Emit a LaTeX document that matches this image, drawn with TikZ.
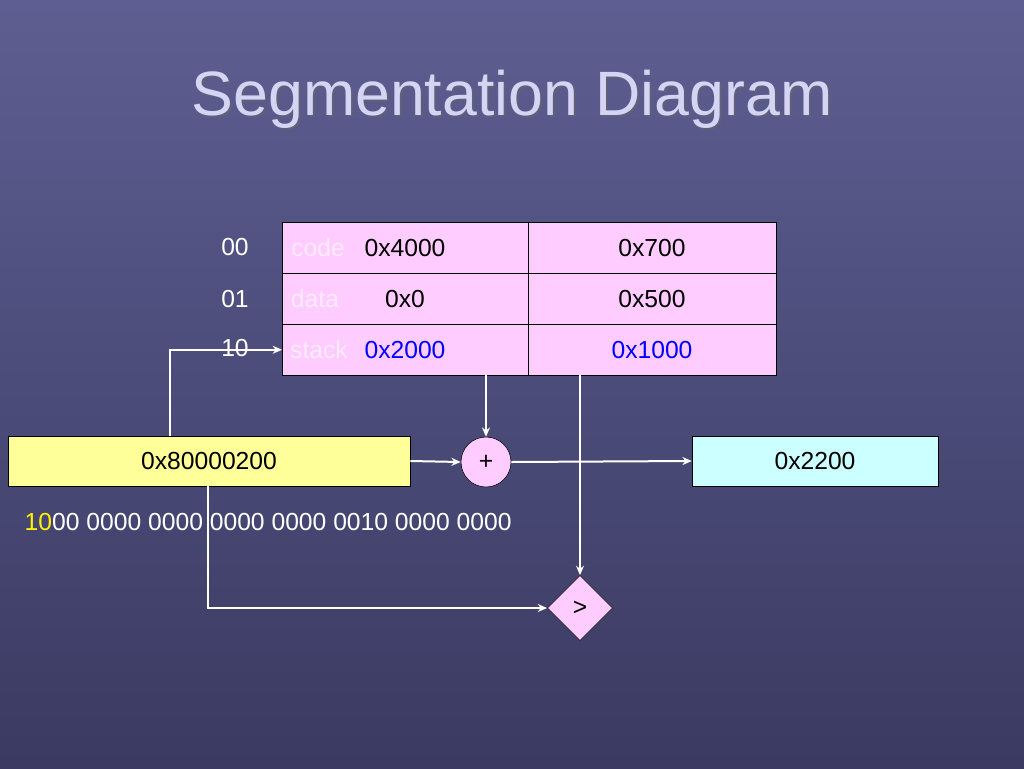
\documentclass[tikz,border=0pt]{standalone}
\usepackage{fontspec}
\setmainfont{Liberation Sans}
\usetikzlibrary{shapes.geometric,arrows.meta}
\definecolor{bgtop}{HTML}{5E5E92}
\definecolor{bgbot}{HTML}{3A3A62}
\definecolor{pinkf}{HTML}{FFCCFF}
\definecolor{yelf}{HTML}{FFFF99}
\definecolor{cyanf}{HTML}{CCFFFF}
\definecolor{titlec}{HTML}{D4D4F4}
\definecolor{faint}{HTML}{FFEAFF}
\begin{document}
\begin{tikzpicture}[x=0.75pt,y=-0.75pt,
  txt/.style={font=\fontsize{18.5}{22}\selectfont},
  wl/.style={white,line width=1.5pt},
  wa/.style={white,line width=1.5pt,-{Stealth[length=7pt,width=6pt]}},
  cell/.style={draw=black,fill=pinkf,minimum height=38.25pt,inner sep=0pt,anchor=north west}]
\shade[top color=bgtop,bottom color=bgbot] (0,0) rectangle (1024,768);
\useasboundingbox (0,0) rectangle (1024,768);
\node[text=black!60,opacity=0.5,font=\fontsize{47}{56}\selectfont] at (514,101) {Segmentation Diagram};
\node (title) [text=titlec,font=\fontsize{47}{56}\selectfont] at (512,99) {Segmentation Diagram};
% table
\foreach \r/\y/\n in {0/222/c,1/273/d,2/324/s}{
  \node (\n L) [cell,minimum width=185.25pt] at (282,\y) {};
  \node (\n R) [cell,minimum width=186pt] at (528,\y) {};
}
\node[txt,text=faint] at (318,248) {code};
\node[txt,text=faint] at (315,299) {data};
\node[txt,text=faint] at (319,350) {stack};
\node[txt] at (405,248) {0x4000};
\node[txt] at (652,248) {0x700};
\node[txt] at (405,299) {0x0};
\node[txt] at (652,299) {0x500};
\node[txt,text=blue] at (405,350) {0x2000};
\node[txt,text=blue] at (652,350) {0x1000};
\node[txt,white] at (235,247) {00};
\node[txt,white] at (235,299) {01};
\node[txt,white] at (235,348) {10};
% boxes
\node (va) [draw=black,fill=yelf,minimum width=301.5pt,minimum height=37.5pt,inner sep=0pt,txt] at (209,461) {0x80000200};
\node (plus) [circle,draw=black,fill=pinkf,minimum size=37.5pt,inner sep=0pt,txt] at (486,462) {+};
\node (res) [draw=black,fill=cyanf,minimum width=184.5pt,minimum height=37.5pt,inner sep=0pt,txt] at (815,461) {0x2200};
\node (cmp) [diamond,draw=black,fill=pinkf,minimum size=49pt,inner sep=0pt,txt] at (580,608) {>};
\node[txt,anchor=west,white] at (20,522) {\textcolor{yellow}{10}00 0000 0000 0000 0000 0010 0000 0000};
% connectors
\coordinate (t1) at (486,375);
\coordinate (t2) at (580,375);
\draw[wa] (t1) -- (plus.north);
\draw[wa] (t2) -- (cmp.north);
\draw[wa] (va.east) -- (plus.west);
\draw[wa] (plus.east) -- (res.west);
\coordinate (u1) at (170,436);
\draw[wa] (u1) |- (sL.west);
\coordinate (d1) at (208,486);
\draw[wa] (d1) |- (cmp.west);
\end{tikzpicture}
\end{document}
